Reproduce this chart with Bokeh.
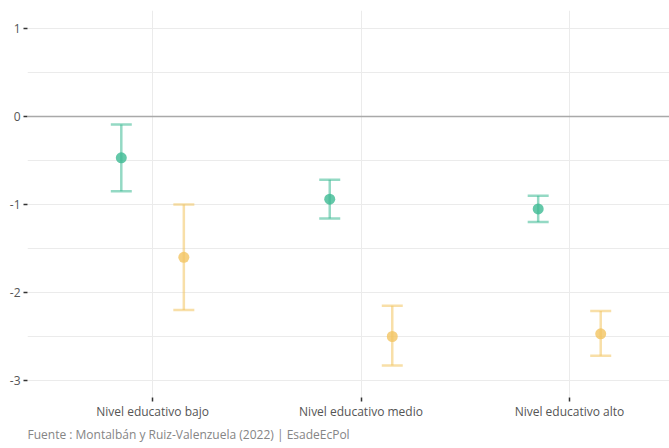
from bokeh.plotting import figure
from bokeh.models import (ColumnDataSource, FixedTicker, Span, Whisker, TeeHead,
                          Range1d, Title)
from bokeh.embed import file_html
from bokeh.resources import INLINE

# Education levels and estimates for two groups (point estimate with CI bounds)
categories = ["Nivel educativo bajo", "Nivel educativo medio", "Nivel educativo alto"]

green_est = [-0.47, -0.94, -1.05]
green_low = [-0.85, -1.16, -1.20]
green_high = [-0.09, -0.72, -0.90]

yellow_est = [-1.60, -2.50, -2.47]
yellow_low = [-2.20, -2.83, -2.72]
yellow_high = [-1.00, -2.15, -2.21]

y_ticks = [1, 0, -1, -2, -3]
y_minor = [0.5, -0.5, -1.5, -2.5]

FONT = "Open Sans"
TEXT = "#555555"
GRID = "#ebebeb"
DODGE = 0.15

p = figure(width=669, height=448, output_backend="svg", toolbar_location=None,
           x_range=Range1d(0.4, 3.48), y_range=Range1d(-3.193, 1.2045),
           min_border_left=27, min_border_right=0, min_border_top=10,
           min_border_bottom=51)
p.outline_line_color = None
p.background_fill_color = "white"
p.border_fill_color = "white"

xs = list(range(1, len(categories) + 1))

# grid
p.xaxis.ticker = FixedTicker(ticks=xs)
p.xaxis.major_label_overrides = {x: c for x, c in zip(xs, categories)}
p.yaxis.ticker = FixedTicker(ticks=y_ticks, minor_ticks=y_minor)
p.yaxis.major_label_overrides = {t: str(t) for t in y_ticks}
p.xgrid.grid_line_color = GRID
p.ygrid.grid_line_color = GRID
p.ygrid.minor_grid_line_color = GRID

for ax in (p.xaxis, p.yaxis):
    ax.axis_line_color = None
    ax.minor_tick_line_color = None
    ax.major_tick_in = 0
    ax.major_tick_out = 4
    ax.major_tick_line_color = "#333333"
    ax.major_tick_line_width = 1.5
    ax.major_label_text_font = FONT
    ax.major_label_text_font_size = "12px"
    ax.major_label_text_color = TEXT
p.yaxis.major_label_standoff = 3
p.xaxis.major_label_standoff = 1

# zero reference
p.add_layout(Span(location=0, dimension="width", line_color="#a9a9a9", line_width=1.5))


def group(est, low, high, offset, color):
    src = ColumnDataSource(dict(x=[x + offset for x in xs], est=est, low=low, high=high))
    w = Whisker(base="x", lower="low", upper="high", source=src, dimension="height",
                line_color=color, line_alpha=0.55, line_width=2.5,
                upper_head=TeeHead(size=21, line_color=color, line_alpha=0.55, line_width=2.5),
                lower_head=TeeHead(size=21, line_color=color, line_alpha=0.55, line_width=2.5))
    p.add_layout(w)
    p.scatter("x", "est", source=src, size=11, fill_color=color, fill_alpha=0.8,
              line_color=None)


group(green_est, green_low, green_high, -DODGE, "#3dba94")
group(yellow_est, yellow_low, yellow_high, DODGE, "#f2c461")

# source note under the axis
caption = Title(text="Fuente : Montalbán y Ruiz-Valenzuela (2022) | EsadeEcPol",
                align="left", text_font=FONT, text_font_size="12px",
                text_color="#858585", text_font_style="normal", standoff=6,
                vertical_align="top")
p.add_layout(caption, "below")

open("out.html", "w").write(file_html(p, INLINE))
